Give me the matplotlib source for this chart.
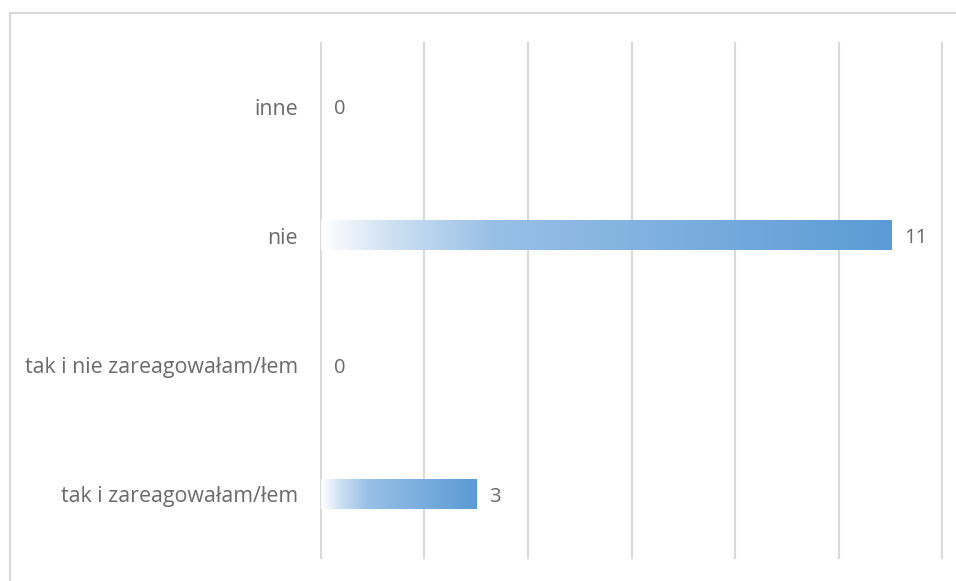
import matplotlib.pyplot as plt
import numpy as np
from matplotlib.colors import LinearSegmentedColormap
from matplotlib.patches import Rectangle

# Data (bottom to top)
categories = ["tak i zareagowałam/łem", "tak i nie zareagowałam/łem", "nie", "inne"]
values = [3, 0, 11, 0]
x_max = 12
x_grid = [0, 2, 4, 6, 8, 10, 12]

plt.rcParams["font.family"] = ["Open Sans", "DejaVu Sans"]
text_color = "#6A6A6A"
grid_color = "#D9D9D9"

# white -> blue gradient like the Excel fill
bar_cmap = LinearSegmentedColormap.from_list(
    "excel_blue",
    [(0.0, "#FFFFFF"), (0.12, "#CFE1F3"), (0.3, "#98C0E6"), (1.0, "#5B9BD5")],
)

fig = plt.figure(figsize=(9.56, 5.81), dpi=100)
ax = fig.add_axes([320 / 956, 1 - 559 / 581, (943 - 320) / 956, (559 - 42) / 581])

bar_h = 0.225
ramp = np.linspace(0, 1, 256).reshape(1, -1)
for i, v in enumerate(values):
    if v > 0:
        ax.imshow(
            ramp,
            extent=[0, v, i - bar_h / 2, i + bar_h / 2],
            cmap=bar_cmap,
            aspect="auto",
            interpolation="bilinear",
            zorder=1,
        )
    ax.text(v + 0.26, i, str(v), va="center_baseline", ha="left",
            fontsize=14.5, color=text_color)

for g in x_grid:
    ax.axvline(g, color=grid_color, linewidth=1.5, zorder=0)

ax.set_xlim(0 - 0.01, x_max + 0.01)
ax.set_ylim(-0.5, len(categories) - 0.5)
ax.set_yticks(range(len(categories)))
ax.set_yticklabels(categories, fontsize=15.4, color=text_color,
                   va="center_baseline")
ax.tick_params(axis="y", length=0, pad=16)
ax.set_xticks([])
for s in ax.spines.values():
    s.set_visible(False)

# chart area border (only top and left edges fall inside the image)
fig.patches.append(
    Rectangle((10 / 956, -0.05), 1.0, 1 - 13 / 581 + 0.05,
              transform=fig.transFigure, fill=False,
              edgecolor=grid_color, linewidth=1.5)
)

fig.savefig("out.png", dpi=100)
